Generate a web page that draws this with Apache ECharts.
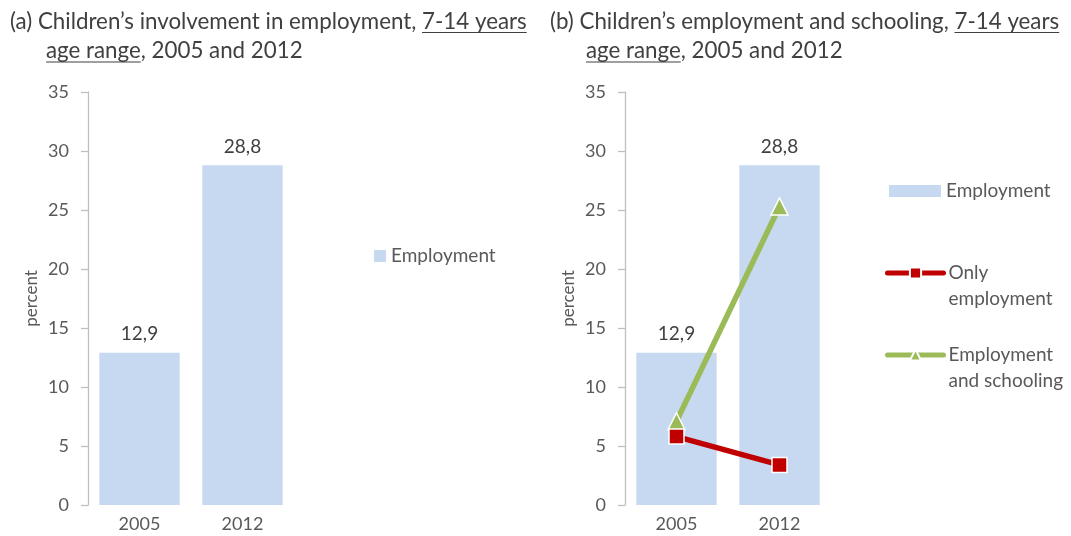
<!DOCTYPE html>
<html><head><meta charset="utf-8">
<script src="https://cdn.jsdelivr.net/npm/echarts@6/dist/echarts.min.js"></script>
<style>html,body{margin:0;padding:0;background:#fff}#c{width:1071px;height:536px}</style>
</head><body><div id="c"></div>
<script>
const categories = ['2005', '2012'];
const employment = [12.9, 28.8];
const onlyEmployment = [5.8, 3.4];
const employmentAndSchooling = [7.1, 25.3];
const yMin = 0, yMax = 35, yStep = 5;
const titleA = ['(a) Children’s involvement in employment, ', '7-14 years', 'age range', ', 2005 and 2012'];
const titleB = ['(b) Children’s employment and schooling, ', '7-14 years', 'age range', ', 2005 and 2012'];

const FONT = 'Lato';
const TXT = '#595959';
const TITLE_C = '#404040';
const AXIS_C = '#BFBFBF';
const BAR_C = '#C6D9F1';
const RED = '#C00000';
const GREEN = '#9BBB59';

const cv = document.createElement('canvas').getContext('2d');
function w(txt, fs) { cv.font = fs + 'px ' + FONT; return cv.measureText(txt).width; }
const tfs = 100 * 517 / w(titleA[0] + titleA[1], 100);

function titleGraphics(t, x0, x1) {
  const g = [];
  const st = { font: tfs + 'px ' + FONT, fill: TITLE_C, verticalAlign: 'top' };
  const w0 = w(t[0], tfs), w1 = w(t[1], tfs), w2 = w(t[2], tfs);
  g.push({ type: 'text', x: x0, y: 11, style: Object.assign({ text: t[0] + t[1] }, st) });
  g.push({ type: 'text', x: x1, y: 40, style: Object.assign({ text: t[2] + t[3] }, st) });
  g.push({ type: 'line', shape: { x1: x0 + w0, y1: 32.5, x2: x0 + w0 + w1, y2: 32.5 }, style: { stroke: TITLE_C, lineWidth: 1.2 } });
  g.push({ type: 'line', shape: { x1: x1, y1: 62, x2: x1 + w2, y2: 62 }, style: { stroke: TITLE_C, lineWidth: 1.2 } });
  return g;
}

function xAx(i) {
  return { type: 'category', gridIndex: i, data: categories,
    axisLine: { show: false }, axisTick: { show: false },
    axisLabel: { color: TXT, fontFamily: FONT, fontSize: 18, margin: 10 } };
}
function yAx(i) {
  return { type: 'value', gridIndex: i, min: yMin, max: yMax, interval: yStep,
    name: 'percent', nameLocation: 'middle', nameGap: 48,
    nameTextStyle: { color: TXT, fontFamily: FONT, fontSize: 17 },
    splitLine: { show: false },
    axisLine: { show: true, lineStyle: { color: AXIS_C, width: 1.3 } },
    axisTick: { show: true, length: 7, lineStyle: { color: AXIS_C, width: 1.3 } },
    axisLabel: { color: TXT, fontFamily: FONT, fontSize: 18, margin: 19 } };
}
function barSeries(i) {
  return { name: 'Employment', type: 'bar', xAxisIndex: i, yAxisIndex: i, data: employment,
    barCategoryGap: '22%', itemStyle: { color: BAR_C },
    label: { show: true, position: 'top', distance: 9, color: TITLE_C, fontFamily: FONT, fontSize: 19,
      formatter: p => String(p.value).replace('.', ',') } };
}
const legText = { color: TXT, fontFamily: FONT, fontSize: 19, lineHeight: 26 };
const legLine = { width: 5, cap: 'round' };

const option = {
  animation: false,
  backgroundColor: '#fff',
  graphic: titleGraphics(titleA, 10, 46).concat(titleGraphics(titleB, 550, 586)),
  grid: [
    { left: 88, top: 92, width: 206, height: 413 },
    { left: 625, top: 92, width: 206, height: 413 }
  ],
  xAxis: [xAx(0), xAx(1)],
  yAxis: [yAx(0), yAx(1)],
  legend: [
    { data: [{ name: 'Employment', icon: 'rect' }], left: 374, top: 243, padding: 0, itemWidth: 12, itemHeight: 12,
      textStyle: legText, selectedMode: false },
    { data: [{ name: 'Employment', icon: 'rect' }], left: 889, top: 178, padding: 0, itemWidth: 52, itemHeight: 12,
      textStyle: legText, selectedMode: false },
    { data: ['Only employment'], left: 885, top: 234, padding: 0, itemWidth: 56, itemHeight: 14,
      formatter: () => '\u00a0\nOnly\nemployment', lineStyle: legLine,
      textStyle: legText, selectedMode: false },
    { data: ['Employment and schooling'], left: 885, top: 316, padding: 0, itemWidth: 56, itemHeight: 14,
      formatter: () => '\u00a0\nEmployment\nand schooling', lineStyle: legLine,
      textStyle: legText, selectedMode: false }
  ],
  series: [
    barSeries(0),
    barSeries(1),
    { name: 'Employment and schooling', type: 'line', xAxisIndex: 1, yAxisIndex: 1, data: employmentAndSchooling,
      lineStyle: { color: GREEN, width: 5.5 }, itemStyle: { color: GREEN, borderColor: '#fff', borderWidth: 1.5 },
      symbol: 'triangle', symbolSize: 17, z: 3 },
    { name: 'Only employment', type: 'line', xAxisIndex: 1, yAxisIndex: 1, data: onlyEmployment,
      lineStyle: { color: RED, width: 5.5 }, itemStyle: { color: RED, borderColor: '#fff', borderWidth: 1.5 },
      symbol: 'rect', symbolSize: 15, z: 4 }
  ]
};
const chart = echarts.init(document.getElementById('c'), null, { renderer: 'canvas' });
chart.setOption(option);
</script></body></html>
